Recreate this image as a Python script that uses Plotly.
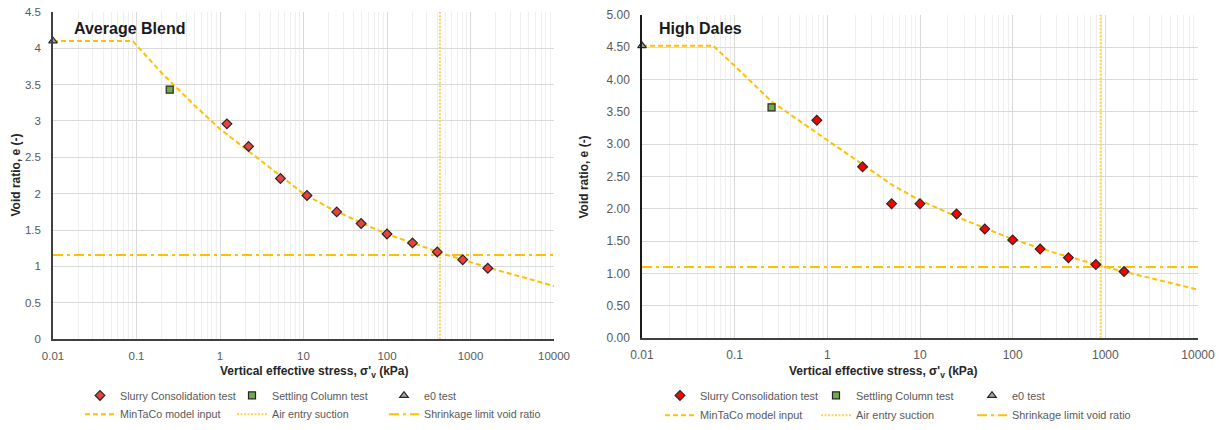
import plotly.graph_objects as go

W, H = 1219, 430

# ---------------- data: Average Blend ----------------
ab_slurry_stress = [1.21, 2.2, 5.3, 11, 25, 49, 100, 202, 400, 807, 1610]
ab_slurry_e = [2.96, 2.65, 2.21, 1.975, 1.75, 1.59, 1.446, 1.324, 1.20, 1.093, 0.976]
ab_settling_stress = [0.25]
ab_settling_e = [3.43]
ab_e0_stress = [0.01]
ab_e0_e = [4.10]
ab_model_stress = [0.01, 0.09, 0.2, 0.5, 1, 2, 5, 10, 20, 50, 100, 200, 500, 1000, 2000, 5000, 10000]
ab_model_e = [4.10, 4.10, 3.66, 3.21, 2.89, 2.62, 2.27, 2.00, 1.81, 1.595, 1.445, 1.32, 1.165, 1.06, 0.955, 0.83, 0.73]
ab_air_entry = 430
ab_shrinkage = 1.156

# ---------------- data: High Dales ----------------
hd_slurry_stress = [0.77, 2.4, 4.94, 10, 24.8, 50, 100, 198, 400, 790, 1590]
hd_slurry_e = [3.37, 2.65, 2.08, 2.08, 1.92, 1.69, 1.52, 1.38, 1.245, 1.14, 1.03]
hd_settling_stress = [0.25]
hd_settling_e = [3.57]
hd_e0_stress = [0.01]
hd_e0_e = [4.52]
hd_model_stress = [0.01, 0.059, 0.1, 0.25, 0.5, 1, 2.4, 5, 10, 30, 100, 300, 1000, 3000, 10000]
hd_model_e = [4.52, 4.52, 4.21, 3.66, 3.36, 3.06, 2.69, 2.37, 2.13, 1.83, 1.53, 1.31, 1.10, 0.93, 0.75]
hd_air_entry = 890
hd_shrinkage = 1.10

x_tickvals = [0.01, 0.1, 1, 10, 100, 1000, 10000]
x_ticktext = ["0.01", "0.1", "1", "10", "100", "1000", "10000"]
ab_y_tickvals = [0, 0.5, 1, 1.5, 2, 2.5, 3, 3.5, 4, 4.5]
ab_y_ticktext = ["0", "0.5", "1", "1.5", "2", "2.5", "3", "3.5", "4", "4.5"]
hd_y_tickvals = [0, 0.5, 1, 1.5, 2, 2.5, 3, 3.5, 4, 4.5, 5]
hd_y_ticktext = ["0.00", "0.50", "1.00", "1.50", "2.00", "2.50", "3.00", "3.50", "4.00", "4.50", "5.00"]

names = ["Slurry Consolidation test", "Settling Column test", "e0 test",
         "MinTaCo model input", "Air entry suction", "Shrinkage limit void ratio"]

FONT = "Liberation Sans, Arial, sans-serif"
GOLD = "#FFC000"

fig = go.Figure()


def add_chart(xa, ya, lg_a, lg_b, slurry_x, slurry_y, slurry_col, set_x, set_y, e0_x, e0_y,
              mod_x, mod_y, air, shrink, ymax):
    fig.add_trace(go.Scatter(x=mod_x, y=mod_y, mode="lines", name=names[3],
                             line=dict(color=GOLD, width=2, dash="5px,3px"),
                             xaxis=xa, yaxis=ya, legend=lg_b, legendrank=4))
    fig.add_trace(go.Scatter(x=[air, air], y=[0, ymax], mode="lines", name=names[4],
                             line=dict(color="#FFD347", width=2, dash="2px,1.5px"),
                             xaxis=xa, yaxis=ya, legend=lg_b, legendrank=5))
    fig.add_trace(go.Scatter(x=[0.01, 10000], y=[shrink, shrink], mode="lines", name=names[5],
                             line=dict(color=GOLD, width=2, dash="10px,4px,3px,4px"),
                             xaxis=xa, yaxis=ya, legend=lg_b, legendrank=6, legendwidth=160))
    fig.add_trace(go.Scatter(x=slurry_x, y=slurry_y, mode="markers", name=names[0],
                             marker=dict(symbol="diamond", size=7.5, color=slurry_col,
                                         line=dict(color="#262626", width=1.2)),
                             xaxis=xa, yaxis=ya, legend=lg_a, legendrank=1, cliponaxis=False))
    fig.add_trace(go.Scatter(x=set_x, y=set_y, mode="markers", name=names[1],
                             marker=dict(symbol="square", size=7, color="#70AD47",
                                         line=dict(color="#262626", width=1.2)),
                             xaxis=xa, yaxis=ya, legend=lg_a, legendrank=2, cliponaxis=False))
    fig.add_trace(go.Scatter(x=e0_x, y=e0_y, mode="markers", name=names[2],
                             marker=dict(symbol="triangle-up", size=7.5, color="#A6A6A6",
                                         line=dict(color="#262626", width=1.2)),
                             xaxis=xa, yaxis=ya, legend=lg_a, legendrank=3, cliponaxis=False,
                             legendwidth=100))


add_chart("x", "y", "legend", "legend2", ab_slurry_stress, ab_slurry_e, "#E8423F",
          ab_settling_stress, ab_settling_e, ab_e0_stress, ab_e0_e,
          ab_model_stress, ab_model_e, ab_air_entry, ab_shrinkage, 4.5)
add_chart("x2", "y2", "legend3", "legend4", hd_slurry_stress, hd_slurry_e, "#FF0000",
          hd_settling_stress, hd_settling_e, hd_e0_stress, hd_e0_e,
          hd_model_stress, hd_model_e, hd_air_entry, hd_shrinkage, 5.0)


def px_x(p):
    return p / W


def px_y(p):
    return 1 - p / H


def xaxis_cfg(dom, anchor, fs):
    return dict(type="log", range=[-2, 4], domain=dom, anchor=anchor,
                tickvals=x_tickvals, ticktext=x_ticktext,
                showgrid=True, gridcolor="#D9D9D9", gridwidth=1,
                minor=dict(showgrid=True, gridcolor="#EFEFEF", gridwidth=1, dtick="D1", ticks=""),
                showline=True, linecolor="#404040", linewidth=1.5,
                ticks="", ticklabelstandoff=5, zeroline=False, automargin=False,
                tickfont=dict(family=FONT, size=fs, color="#595959"))


def yaxis_cfg(dom, anchor, rng, tv, tt, fs, lc):
    return dict(range=rng, domain=dom, anchor=anchor, tickvals=tv, ticktext=tt,
                showgrid=True, gridcolor="#D9D9D9", gridwidth=1,
                showline=True, linecolor=lc, linewidth=1.5, zeroline=False,
                ticks="", ticklabelstandoff=8, automargin=False,
                tickfont=dict(family=FONT, size=fs, color="#595959"))


def legend_cfg(xp, yp, ew, fs):
    return dict(orientation="h", x=px_x(xp), y=px_y(yp), xanchor="left", yanchor="middle",
                entrywidth=ew, entrywidthmode="pixels", bgcolor="rgba(0,0,0,0)",
                font=dict(family=FONT, size=fs, color="#595959"), itemclick=False,
                itemdoubleclick=False, tracegroupgap=0)


fig.update_layout(
    width=W, height=H, margin=dict(l=0, r=0, t=0, b=0),
    paper_bgcolor="white", plot_bgcolor="white",
    xaxis=xaxis_cfg([px_x(53), px_x(554)], "y", 11.5),
    yaxis=yaxis_cfg([px_y(344), px_y(12)], "x", [0, 4.5], ab_y_tickvals, ab_y_ticktext, 11.5, "#404040"),
    xaxis2=xaxis_cfg([px_x(642), px_x(1198)], "y2", 12),
    yaxis2=yaxis_cfg([px_y(343), px_y(15)], "x2", [0, 5.0], hd_y_tickvals, hd_y_ticktext, 12, "#1a1a1a"),
    legend=legend_cfg(80, 401, 107, 10.7),
    legend2=legend_cfg(80, 420, 107, 10.7),
    legend3=legend_cfg(660, 401, 111, 10.9),
    legend4=legend_cfg(660, 421, 111, 10.9),
    showlegend=True,
)

ann = [
    dict(text="<b>Average Blend</b>", x=px_x(72), y=px_y(29), xanchor="left", yanchor="middle",
         font=dict(family=FONT, size=16, color="#1a1a1a")),
    dict(text="<b>High Dales</b>", x=px_x(657), y=px_y(29), xanchor="left", yanchor="middle",
         font=dict(family=FONT, size=16, color="#1a1a1a")),
    dict(text="<b>Vertical effective stress, σ'<sub>v</sub> (kPa)</b>", x=px_x(314.5), y=px_y(377),
         xanchor="center", yanchor="middle", font=dict(family=FONT, size=12, color="#262626")),
    dict(text="<b>Vertical effective stress, σ'<sub>v</sub> (kPa)</b>", x=px_x(883), y=px_y(377),
         xanchor="center", yanchor="middle", font=dict(family=FONT, size=12, color="#262626")),
    dict(text="<b>Void ratio, e (-)</b>", x=px_x(16), y=px_y(178), textangle=-90,
         xanchor="center", yanchor="middle", font=dict(family=FONT, size=12, color="#262626")),
    dict(text="<b>Void ratio, e (-)</b>", x=px_x(584), y=px_y(180), textangle=-90,
         xanchor="center", yanchor="middle", font=dict(family=FONT, size=12, color="#262626")),
]
for a in ann:
    a.update(xref="paper", yref="paper", showarrow=False)
    fig.add_annotation(**a)

fig.write_html("out.html", config={"displayModeBar": False},
               post_script="document.body.style.margin='0';document.body.style.overflow='hidden';")
